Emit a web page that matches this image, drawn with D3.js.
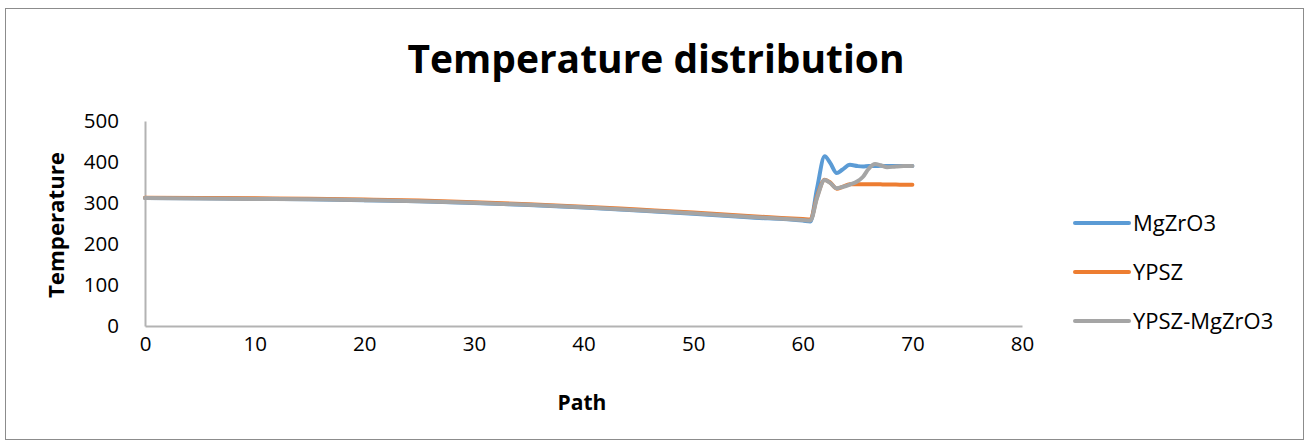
<!DOCTYPE html>
<html>
<head>
	<meta charset="utf-8">
	<title>Temperature distribution</title>
	<script src="https://d3js.org/d3.v7.min.js"></script>
	<style type="text/css">
		body { margin: 0; background: #fff; }
		svg text { font-family: 'Open Sans', sans-serif; fill: #000; }
		.axis path { stroke: #b3b3b3; stroke-width: 2; }
		.axis line { display: none; }
	</style>
</head>
<body>
	<script type="text/javascript">
		// path positions shared by the three series
		var path = [0, 5, 10, 15, 20, 25, 30, 35, 40, 45, 50, 55, 60, 60.7, 61.3, 62, 62.5, 63.1, 63.6, 64.3, 65, 65.5, 66, 66.6, 67.1, 67.7, 68.5, 69.2, 70];

		var mgzro3 = [312, 311.5, 310.5, 309, 307, 304, 300, 295, 289, 282, 274, 265, 257, 255, 335, 414, 398, 373, 381, 393, 390, 389, 390, 390, 391, 390, 390, 390, 390];
		var ypsz = [313, 312.5, 311.5, 310.5, 308.5, 306, 302, 297, 291, 284, 277, 268, 261, 260, 315, 357, 350, 335, 339, 346, 346, 346, 346, 346, 345.5, 345, 345, 344.5, 344.5];
		var ypszMg = [312, 311, 310, 309, 307, 304.5, 300.5, 295.5, 289.5, 282.5, 275, 266.5, 258.5, 257.5, 312, 356, 349, 336, 339, 345, 353, 364, 383, 395, 392, 387, 389, 390, 390];

		var seriesNames = ["MgZrO3", "YPSZ", "YPSZ-MgZrO3"];
		var seriesColors = ["#5b9bd5", "#ed7d31", "#a5a5a5"];
		var xTicks = [0, 10, 20, 30, 40, 50, 60, 70, 80];
		var yTicks = [0, 100, 200, 300, 400, 500];

		var W = 1309, H = 446;
		var plot = {left: 145, right: 1022, top: 121, bottom: 326};

		var svg = d3.select('body').append('svg')
			.attr('width', W)
			.attr('height', H);

		// chart border
		svg.append('rect')
			.attr('x', 5.5).attr('y', 8.5)
			.attr('width', 1298).attr('height', 431)
			.attr('fill', '#fff')
			.attr('stroke', '#8c8c8c')
			.attr('stroke-width', 1);

		var x = d3.scaleLinear().domain([0, 80]).range([plot.left, plot.right]);
		var y = d3.scaleLinear().domain([0, 500]).range([plot.bottom, plot.top]);

		var xAxis = svg.append('g')
			.attr('class', 'axis')
			.attr('transform', 'translate(0,' + plot.bottom + ')')
			.call(d3.axisBottom(x).tickValues(xTicks).tickSize(0).tickSizeOuter(0).tickPadding(10));
		xAxis.selectAll('text').attr('font-size', 20.5).style('font-family', "'Open Sans', sans-serif").attr('fill', '#000');
		xAxis.select('.domain').attr('stroke', '#b3b3b3');

		var yAxis = svg.append('g')
			.attr('class', 'axis')
			.attr('transform', 'translate(' + plot.left + ',0)')
			.call(d3.axisLeft(y).tickValues(yTicks).tickSize(0).tickSizeOuter(0).tickPadding(26));
		yAxis.selectAll('text').attr('font-size', 20.5).style('font-family', "'Open Sans', sans-serif").attr('fill', '#000');
		yAxis.select('.domain').attr('stroke', '#b3b3b3');

		var allSeries = [mgzro3, ypsz, ypszMg];

		var line = d3.line()
			.x(function(d, i){ return x(path[i]); })
			.y(function(d){ return y(d); })
			.curve(d3.curveMonotoneX);

		svg.selectAll('.series')
			.data(allSeries)
			.enter()
			.append('path')
			.attr('class', 'series')
			.attr('fill', 'none')
			.attr('stroke', function(d, i){ return seriesColors[i]; })
			.attr('stroke-width', 4)
			.attr('stroke-linejoin', 'round')
			.attr('stroke-linecap', 'round')
			.attr('d', line);

		// title
		svg.append('text')
			.attr('x', 656)
			.attr('y', 73)
			.attr('text-anchor', 'middle')
			.attr('font-size', 40)
			.attr('font-weight', 'bold')
			.attr('textLength', 497)
			.attr('lengthAdjust', 'spacingAndGlyphs')
			.text('Temperature distribution');

		// axis titles
		svg.append('text')
			.attr('x', 582)
			.attr('y', 410)
			.attr('text-anchor', 'middle')
			.attr('font-size', 21)
			.attr('font-weight', 'bold')
			.text('Path');

		svg.append('text')
			.attr('transform', 'translate(64,225) rotate(-90)')
			.attr('text-anchor', 'middle')
			.attr('font-size', 21)
			.attr('font-weight', 'bold')
			.attr('textLength', 146)
			.attr('lengthAdjust', 'spacingAndGlyphs')
			.text('Temperature');

		// legend
		var legend = svg.selectAll('.legend')
			.data(seriesNames)
			.enter()
			.append('g')
			.attr('class', 'legend')
			.attr('transform', function(d, i){ return 'translate(1075,' + (223 + i * 49) + ')'; });

		legend.append('line')
			.attr('x1', 0).attr('x2', 54)
			.attr('stroke', function(d, i){ return seriesColors[i]; })
			.attr('stroke-width', 4)
			.attr('stroke-linecap', 'round');

		legend.append('text')
			.attr('x', 58)
			.attr('y', 8)
			.attr('font-size', 22)
			.text(function(d){ return d; });
	</script>
</body>
</html>
